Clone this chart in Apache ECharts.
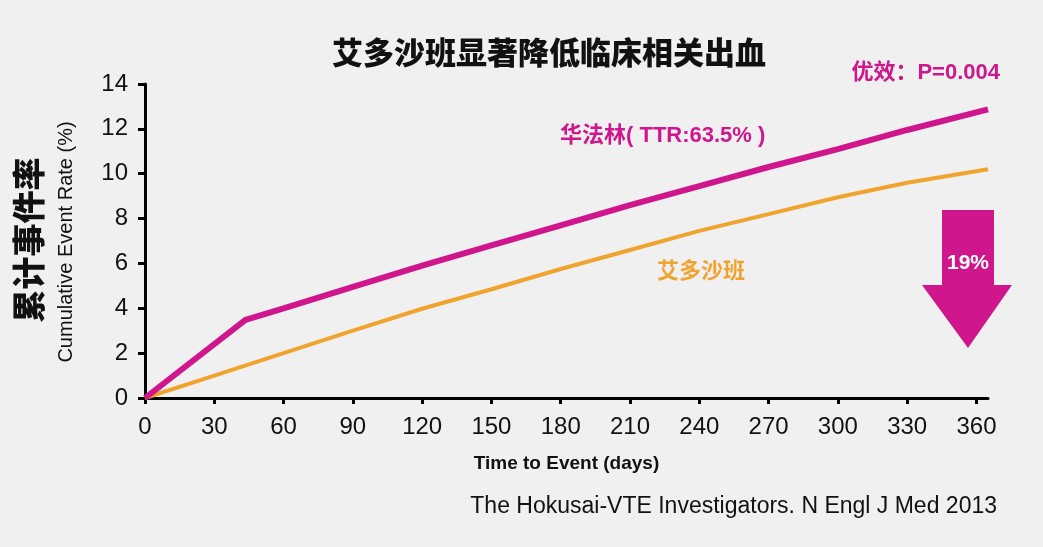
<!DOCTYPE html>
<html style="height: 100%">
<head>
    <meta charset="utf-8">
    <title>艾多沙班显著降低临床相关出血</title>
    <script src="https://cdn.jsdelivr.net/npm/echarts@6/dist/echarts.min.js"></script>
</head>
<body style="height: 100%; margin: 0; background: #f0f0f0">
    <div id="main" style="width: 1043px; height: 547px"></div>
    <script type="text/javascript">
        // 数据
        var warfarinDays = [0, 43.5, 60, 90, 120, 150, 180, 210, 240, 270, 300, 330, 365];
        var warfarin = [0, 3.48, 4.0, 4.95, 5.9, 6.8, 7.7, 8.6, 9.45, 10.3, 11.1, 11.95, 12.87];
        var edoxabanDays = [0, 30, 60, 90, 120, 150, 180, 210, 240, 270, 300, 330, 365];
        var edoxaban = [0, 1.0, 2.0, 3.0, 3.98, 4.85, 5.75, 6.6, 7.45, 8.2, 8.95, 9.6, 10.2];
        var xTicks = [0, 30, 60, 90, 120, 150, 180, 210, 240, 270, 300, 330, 360];

        var magenta = '#cf168c';
        var orange = '#f0a32e';
        var latin = "'Liberation Sans', Arial, sans-serif";
        var cjk = "'Noto Sans CJK SC', sans-serif";
        var mixed = "'Liberation Sans', 'Noto Sans CJK SC', sans-serif";

        function pairs(xs, ys) {
            var out = [];
            for (var i = 0; i < xs.length; i++) out.push([xs[i], ys[i]]);
            return out;
        }

        var myChart = echarts.init(document.getElementById('main'));

        var option = {
            backgroundColor: '#f0f0f0',
            animation: false,
            grid: {
                left: 145,
                right: 55,
                top: 84,
                bottom: 149,
                outerBoundsMode: 'none'
            },
            xAxis: {
                type: 'value',
                min: 0,
                max: 365,
                interval: 30,
                name: 'Time to Event (days)',
                nameLocation: 'middle',
                nameGap: 56,
                nameTextStyle: {
                    fontFamily: latin,
                    fontWeight: 'bold',
                    fontSize: 19,
                    color: '#111'
                },
                splitLine: { show: false },
                axisLine: { lineStyle: { color: '#000', width: 3 } },
                axisTick: {
                    show: true,
                    length: 6,
                    customValues: xTicks,
                    lineStyle: { color: '#000', width: 3 }
                },
                axisLabel: {
                    customValues: xTicks,
                    margin: 17,
                    fontFamily: latin,
                    fontSize: 24,
                    color: '#111'
                }
            },
            yAxis: {
                type: 'value',
                min: 0,
                max: 14,
                interval: 2,
                splitLine: { show: false },
                axisLine: { show: true, lineStyle: { color: '#000', width: 3 } },
                axisTick: { show: true, length: 7, lineStyle: { color: '#000', width: 3 } },
                axisLabel: {
                    margin: 17,
                    fontFamily: latin,
                    fontSize: 24,
                    color: '#111'
                }
            },
            series: [
                {
                    name: '艾多沙班',
                    type: 'line',
                    data: pairs(edoxabanDays, edoxaban),
                    symbol: 'none',
                    lineStyle: { color: orange, width: 4 },
                    z: 2
                },
                {
                    name: '华法林',
                    type: 'line',
                    data: pairs(warfarinDays, warfarin),
                    symbol: 'none',
                    lineStyle: { color: magenta, width: 6 },
                    z: 3
                }
            ],
            graphic: [
                {
                    type: 'text', x: 549, y: 52,
                    style: {
                        text: '艾多沙班显著降低临床相关出血',
                        font: '900 31px ' + cjk,
                        fill: '#111', align: 'center', verticalAlign: 'middle'
                    }
                },
                {
                    type: 'text', x: 1000, y: 73,
                    style: {
                        text: '优效：P=0.004',
                        font: 'bold 22px ' + mixed,
                        fill: magenta, align: 'right', verticalAlign: 'middle'
                    }
                },
                {
                    type: 'text', x: 560, y: 136,
                    style: {
                        text: '华法林( TTR:63.5% )',
                        font: 'bold 22px ' + mixed,
                        fill: magenta, align: 'left', verticalAlign: 'middle'
                    }
                },
                {
                    type: 'text', x: 657, y: 270,
                    style: {
                        text: '艾多沙班',
                        font: 'bold 22px ' + cjk,
                        fill: orange, align: 'left', verticalAlign: 'middle'
                    }
                },
                {
                    type: 'text', x: 28, y: 240, rotation: Math.PI / 2,
                    style: {
                        text: '累计事件率',
                        font: '900 33px ' + cjk,
                        fill: '#111', align: 'center', verticalAlign: 'middle'
                    }
                },
                {
                    type: 'text', x: 66, y: 242, rotation: Math.PI / 2,
                    style: {
                        text: 'Cumulative Event Rate (%)',
                        font: '20px ' + latin,
                        fill: '#111', align: 'center', verticalAlign: 'middle'
                    }
                },
                {
                    type: 'polygon',
                    shape: {
                        points: [[942, 210], [994, 210], [994, 285], [1012, 285], [968, 348], [922, 285], [942, 285]]
                    },
                    style: { fill: magenta }
                },
                {
                    type: 'text', x: 968, y: 263,
                    style: {
                        text: '19%',
                        font: 'bold 21px ' + latin,
                        fill: '#fff', align: 'center', verticalAlign: 'middle'
                    }
                },
                {
                    type: 'text', x: 997, y: 507,
                    style: {
                        text: 'The Hokusai-VTE Investigators. N Engl J Med 2013',
                        font: '23px ' + latin,
                        fill: '#111', align: 'right', verticalAlign: 'middle'
                    }
                }
            ]
        };

        myChart.setOption(option);
    </script>
</body>
</html>
